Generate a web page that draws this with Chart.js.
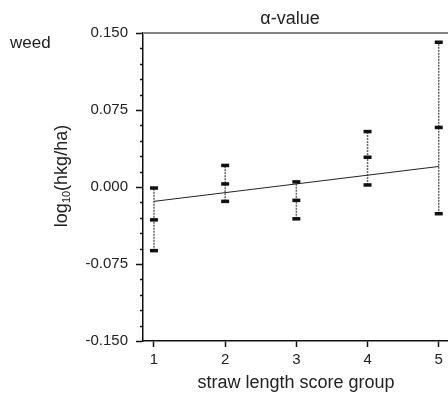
<!DOCTYPE html>
<html>
<head>
<meta charset="utf-8">
<script src="https://cdn.jsdelivr.net/npm/chart.js@4"></script>
<style>
  html, body { margin: 0; padding: 0; background: #fff; }
  #wrap { width: 448px; height: 398px; }
</style>
</head>
<body>
<div id="wrap"><canvas id="alphaChart"></canvas></div>
<script>
// values
const groups = [1, 2, 3, 4, 5];
const upperVals = [-0.001, 0.021, 0.005, 0.054, 0.141];
const midVals = [-0.032, 0.003, -0.013, 0.029, 0.058];
const lowerVals = [-0.062, -0.014, -0.031, 0.002, -0.026];
const fitX = [1, 5];
const fitY = [-0.014, 0.020];
const yMajorTicks = [-0.150, -0.075, 0.000, 0.075, 0.150];
const yMinorStep = 0.015;

const FONT = 'Liberation Sans, Arial, Helvetica, sans-serif';

function isMajor(v) {
    return yMajorTicks.some(m => Math.abs(m - v) < 1e-6);
}

const errDatasets = groups.map((g, i) => ({
    type: 'line',
    data: [{ x: g, y: lowerVals[i] }, { x: g, y: upperVals[i] }],
    borderColor: '#666',
    borderWidth: 1.5,
    borderDash: [2, 1],
    pointRadius: 0,
    order: 3
}));

const markerData = [];
groups.forEach((g, i) => {
    markerData.push({ x: g, y: upperVals[i] });
    markerData.push({ x: g, y: midVals[i] });
    markerData.push({ x: g, y: lowerVals[i] });
});

const extras = {
    id: 'extras',
    afterDraw(chart) {
        const ctx = chart.ctx;
        const area = chart.chartArea;
        const ys = chart.scales.y;
        ctx.save();
        // minor ticks on y
        ctx.strokeStyle = '#111';
        ctx.lineWidth = 1.5;
        ys.ticks.forEach(t => {
            if (isMajor(t.value)) return;
            const py = Math.round(ys.getPixelForValue(t.value)) + 0.5;
            ctx.beginPath();
            ctx.moveTo(area.left - 3, py);
            ctx.lineTo(area.left, py);
            ctx.stroke();
        });
        // top frame line
        ctx.strokeStyle = '#858585';
        ctx.lineWidth = 2;
        ctx.beginPath();
        ctx.moveTo(area.left, area.top);
        ctx.lineTo(area.right, area.top);
        ctx.stroke();

        ctx.fillStyle = '#222';
        ctx.textBaseline = 'alphabetic';
        ctx.font = '18px ' + FONT;
        ctx.textAlign = 'center';
        ctx.fillText('α-value', 290, 24);
        ctx.fillText('straw length score group', 296, 388);
        ctx.font = '17px ' + FONT;
        ctx.textAlign = 'left';
        ctx.fillText('weed', 10, 48);

        // y title with subscript
        ctx.translate(67, 176);
        ctx.rotate(-Math.PI / 2);
        const big = '18px ' + FONT, small = '11px ' + FONT;
        ctx.font = big;
        const w1 = ctx.measureText('log').width;
        const w3 = ctx.measureText('(hkg/ha)').width;
        ctx.font = small;
        const w2 = ctx.measureText('10').width;
        let x = -(w1 + w2 + w3) / 2;
        ctx.font = big;
        ctx.fillText('log', x, 0);
        x += w1;
        ctx.font = small;
        ctx.fillText('10', x, 3);
        x += w2;
        ctx.font = big;
        ctx.fillText('(hkg/ha)', x, 0);
        ctx.restore();
    }
};

new Chart(document.getElementById('alphaChart'), {
    type: 'scatter',
    data: {
        datasets: [
            {
                type: 'scatter',
                data: markerData,
                pointStyle: 'line',
                pointRadius: 4,
                pointBorderWidth: 3.5,
                pointBorderColor: '#111',
                pointBackgroundColor: '#111',
                order: 1
            },
            {
                type: 'line',
                data: fitX.map((x, i) => ({ x: x, y: fitY[i] })),
                borderColor: '#222',
                borderWidth: 1,
                pointRadius: 0,
                order: 2
            },
            ...errDatasets
        ]
    },
    options: {
        responsive: true,
        maintainAspectRatio: false,
        animation: false,
        layout: { autoPadding: false, padding: { top: 33, left: 0, right: 0, bottom: 0 } },
        plugins: { legend: { display: false }, tooltip: { enabled: false } },
        scales: {
            x: {
                type: 'linear',
                min: 0.846,
                max: 5.13,
                afterBuildTicks: s => { s.ticks = groups.map(v => ({ value: v })); },
                afterFit: s => { s.height = 57; s.paddingLeft = 0; s.paddingRight = 0; },
                grid: { drawOnChartArea: false, tickLength: 6, tickColor: '#111', tickWidth: 1.5 },
                border: { color: '#111', width: 1.5 },
                ticks: {
                    autoSkip: false,
                    maxRotation: 0,
                    padding: 4,
                    color: '#222',
                    font: { family: FONT, size: 15 },
                    callback: v => String(v)
                }
            },
            y: {
                type: 'linear',
                min: -0.15,
                max: 0.15,
                afterBuildTicks: s => {
                    const t = [];
                    for (let i = 0; i <= 20; i++) t.push({ value: Math.round((-0.15 + i * yMinorStep) * 1000) / 1000 });
                    s.ticks = t;
                },
                afterFit: s => { s.width = 143; s.paddingTop = 0; s.paddingBottom = 0; },
                grid: {
                    drawOnChartArea: false,
                    tickLength: 7,
                    tickWidth: 1.5,
                    tickColor: c => (c.tick && isMajor(c.tick.value)) ? '#111' : 'rgba(0,0,0,0)'
                },
                border: { color: '#111', width: 1.5 },
                ticks: {
                    autoSkip: false,
                    padding: 8,
                    color: '#222',
                    font: { family: FONT, size: 15 },
                    callback: v => isMajor(v) ? v.toFixed(3) : ''
                }
            }
        }
    },
    plugins: [extras]
});
</script>
</body>
</html>
